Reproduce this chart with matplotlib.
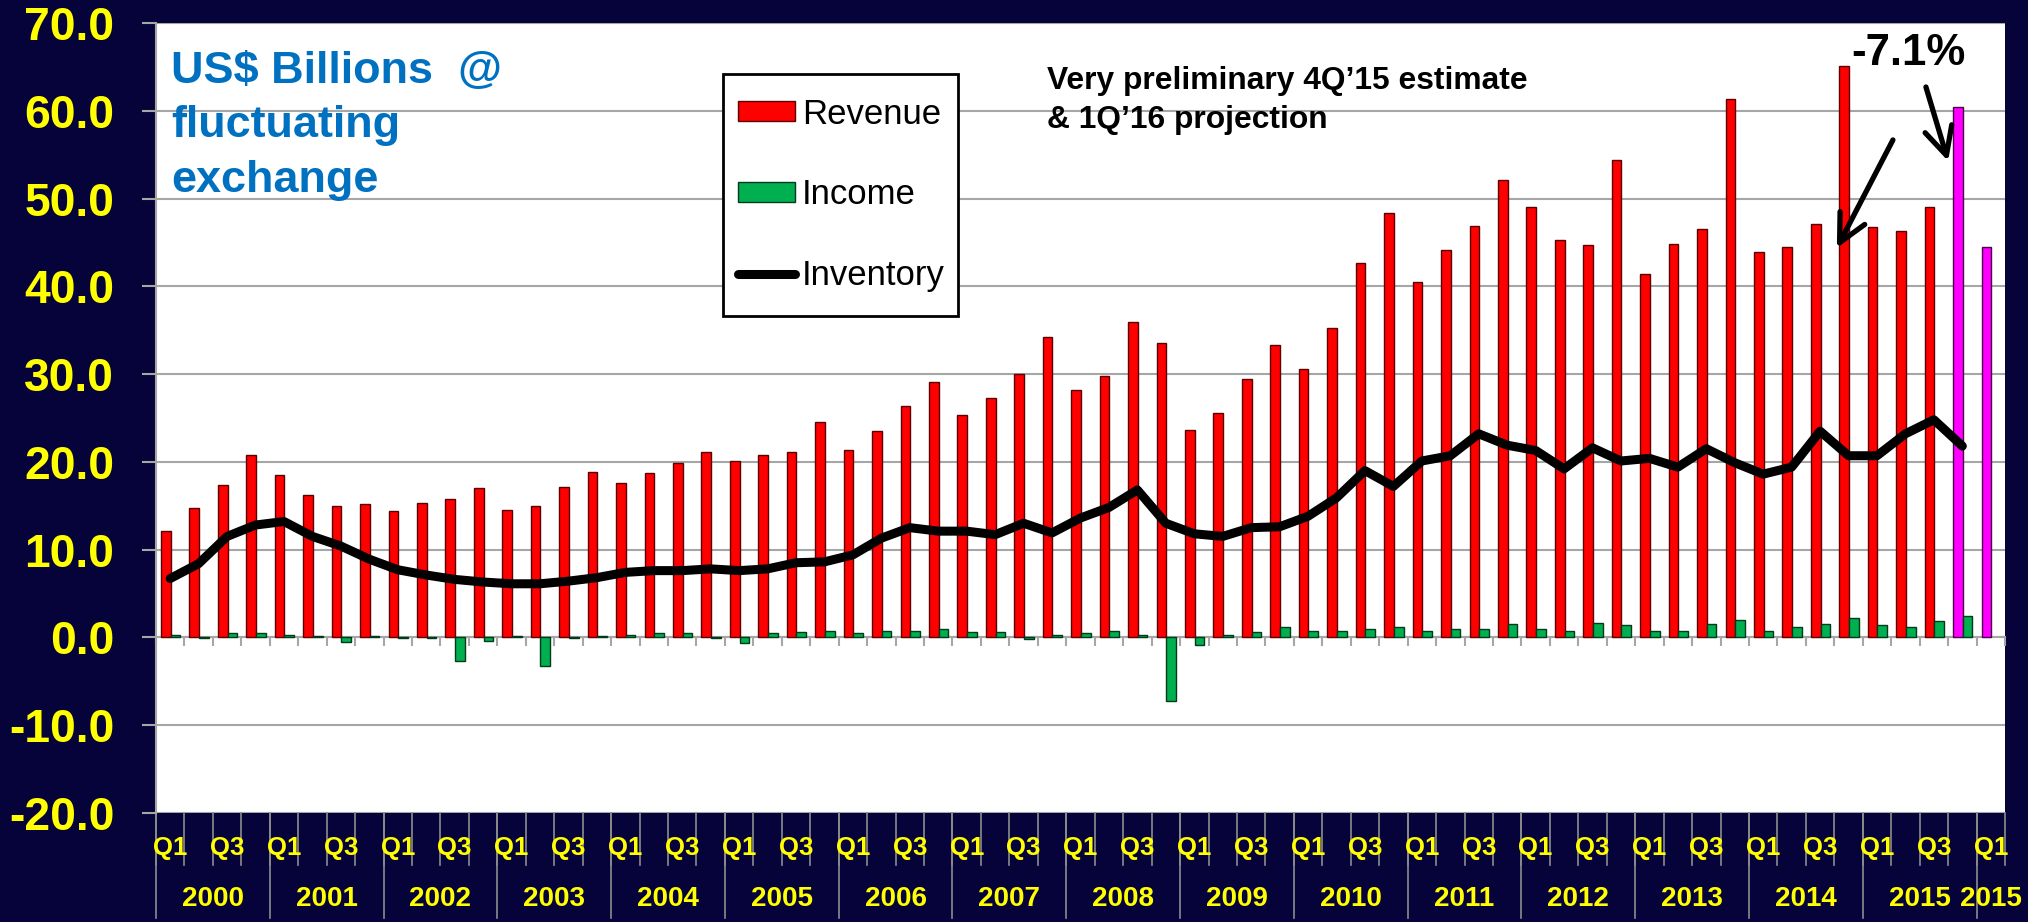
import matplotlib.pyplot as plt
from matplotlib.patches import Rectangle
import numpy as np

plt.rcParams['font.family'] = ['Liberation Sans', 'DejaVu Sans']

# quarterly figures, 1Q00 .. 4Q15 plus the 1Q16 projection (US$ billions)
revenue = [12.1, 14.7, 17.4, 20.8,
           18.5, 16.2, 15.0, 15.2,
           14.4, 15.3, 15.8, 17.0,
           14.5, 15.0, 17.1, 18.9,
           17.6, 18.7, 19.9, 21.1,
           20.1, 20.8, 21.1, 24.6,
           21.4, 23.5, 26.4, 29.1,
           25.3, 27.3, 30.0, 34.2,
           28.2, 29.8, 36.0, 33.6,
           23.6, 25.6, 29.5, 33.3,
           30.6, 35.3, 42.7, 48.4,
           40.5, 44.1, 46.9, 52.1,
           49.1, 45.3, 44.7, 54.4,
           41.4, 44.8, 46.6, 61.4,
           43.9, 44.5, 47.1, 65.1,
           46.8, 46.3, 49.1, 60.5,
           44.5]

income = [0.25, -0.1, 0.45, 0.45,
          0.3, 0.1, -0.5, 0.1,
          -0.1, -0.1, -2.7, -0.4,
          0.1, -3.3, -0.1, 0.1,
          0.3, 0.45, 0.45, -0.1,
          -0.7, 0.45, 0.55, 0.75,
          0.45, 0.75, 0.75, 0.9,
          0.55, 0.55, -0.15, 0.25,
          0.45, 0.75, 0.25, -7.25,
          -0.85, 0.25, 0.55, 1.15,
          0.75, 0.75, 1.0, 1.2,
          0.75, 0.9, 1.0, 1.5,
          0.9, 0.75, 1.65, 1.35,
          0.75, 0.75, 1.5, 1.95,
          0.75, 1.2, 1.5, 2.25,
          1.35, 1.2, 1.8, 2.4,
          np.nan]

inventory = [6.7, 8.4, 11.5, 12.8,
             13.2, 11.5, 10.4, 8.9,
             7.7, 7.1, 6.6, 6.3,
             6.1, 6.1, 6.4, 6.8,
             7.4, 7.6, 7.6, 7.8,
             7.6, 7.8, 8.5, 8.6,
             9.4, 11.3, 12.5, 12.1,
             12.1, 11.7, 13.0, 11.9,
             13.6, 14.8, 16.8, 13.0,
             11.8, 11.5, 12.5, 12.6,
             13.8, 15.9, 19.0, 17.2,
             20.1, 20.7, 23.2, 21.9,
             21.3, 19.2, 21.6, 20.1,
             20.4, 19.4, 21.5, 19.9,
             18.6, 19.4, 23.5, 20.7,
             20.7, 23.2, 24.8, 21.8,
             np.nan]

quarter_labels = ['Q1', '', 'Q3', ''] * 16 + ['Q1']
year_labels = [str(y) for y in range(2000, 2016)] + ['2015']
year_sizes = [4] * 16 + [1]

bg = '#050339'
yellow = '#FFFF00'
grid_grey = '#A6A6A6'

fig = plt.figure(figsize=(20.28, 9.22), dpi=100, facecolor=bg)
ax = fig.add_axes([0.07692, 0.11854, 0.91174, 0.85618])
ax.set_facecolor('white')

x = np.arange(len(revenue))
n = len(revenue)
rev_colors = ['#FF0000'] * (n - 2) + ['#FF00FF'] * 2
rev_edges = ['#5A0000'] * (n - 2) + ['#4A004A'] * 2

bars_rev = ax.bar(x - 0.155, revenue, 0.34, color=rev_colors, edgecolor=rev_edges,
                  linewidth=1, label='Revenue', zorder=3)
bars_inc = ax.bar(x + 0.185, income, 0.34, color='#00B050', edgecolor='#003A1A',
                  linewidth=1, label='Income', zorder=3)
line_inv, = ax.plot(x, inventory, color='black', lw=6.5, solid_joinstyle='round',
                    solid_capstyle='round', label='Inventory', zorder=4)

# y axis
ax.set_xlim(-0.5, n - 0.5)
ax.set_ylim(-20, 70)
yt = np.arange(-20, 71, 10)
ax.set_yticks(yt)
ax.set_yticklabels([f'{v:.1f}' for v in yt], fontweight='bold')
ax.tick_params(axis='y', color=grid_grey, labelcolor=yellow, labelsize=33.3,
               length=10, width=1.5, pad=20)
ax.yaxis.grid(True, color=grid_grey, lw=1.5)
ax.set_axisbelow(True)

# category axis crosses at zero, labels sit below the plot area
ax.spines['bottom'].set_position(('data', 0))
ax.spines['bottom'].set_color(grid_grey)
ax.spines['bottom'].set_linewidth(1.5)
ax.spines['left'].set_color(grid_grey)
ax.spines['left'].set_linewidth(1.5)
ax.spines['top'].set_visible(False)
ax.spines['right'].set_visible(False)
ax.set_xticks(np.arange(-0.5, n, 1))
ax.tick_params(axis='x', color=grid_grey, length=6.5, width=1.5, labelbottom=False)

tr = ax.get_xaxis_transform()
for i, q in enumerate(quarter_labels):
    ax.text(i, -0.0445, q, transform=tr, ha='center', va='center',
            color=yellow, fontsize=18.5, fontweight='bold')
    ax.plot([i - 0.5, i - 0.5], [0, -0.066], transform=tr, clip_on=False,
            color='#8C8C8C', lw=1.2)

start = -0.5
for lbl, size in zip(year_labels, year_sizes):
    ax.text(start + size / 2, -0.109, lbl, transform=tr, ha='center', va='center',
            color=yellow, fontsize=20, fontweight='bold')
    ax.plot([start, start], [0, -0.133], transform=tr, clip_on=False,
            color='#8C8C8C', lw=1.2)
    start += size
ax.plot([start, start], [0, -0.066], transform=tr, clip_on=False, color='#8C8C8C', lw=1.2)

# notes
for txt, yy in zip(['US$ Billions  @', 'fluctuating', 'exchange'], [63.19, 57.04, 50.77]):
    ax.text(0.03, yy, txt, color='#0070C0', fontsize=32.4, fontweight='bold',
            va='baseline', ha='left', zorder=5)

for txt, yy in zip(['Very preliminary 4Q\u201915 estimate', '& 1Q\u201916 projection'], [62.51, 58.06]):
    ax.text(30.82, yy, txt, color='black', fontsize=22.9, fontweight='bold',
            va='baseline', ha='left', zorder=5)

ax.text(59.1, 65.25, '-7.1%', color='black', fontsize=31.5, fontweight='bold',
        va='baseline', ha='left', zorder=5)

arrow = dict(arrowstyle='->,head_length=0.5,head_width=0.25', lw=3.8, color='black',
             shrinkA=0, shrinkB=0, mutation_scale=40)
ax.annotate('', xy=(58.59, 44.39), xytext=(60.56, 56.70), arrowprops=arrow, zorder=6)
ax.annotate('', xy=(62.5, 54.3), xytext=(61.72, 62.74), arrowprops=arrow, zorder=6)

# legend box drawn separately so its padding matches the original
W, H = 2028, 922
fig.add_artist(Rectangle((723 / W, 1 - 316 / H), 235 / W, 242 / H, transform=fig.transFigure,
                         facecolor='white', edgecolor='black', lw=2, zorder=4))
leg = fig.legend(handles=[bars_rev, bars_inc, line_inv], loc='center left',
                 bbox_to_anchor=(738 / W, 1 - 195 / H), borderaxespad=0,
                 prop={'size': 25}, handlelength=1.64, handleheight=0.5,
                 handletextpad=0.2, labelspacing=1.38, borderpad=0,
                 frameon=False)
leg.set_zorder(5)

fig.savefig('out.png', dpi=100, facecolor=bg)
